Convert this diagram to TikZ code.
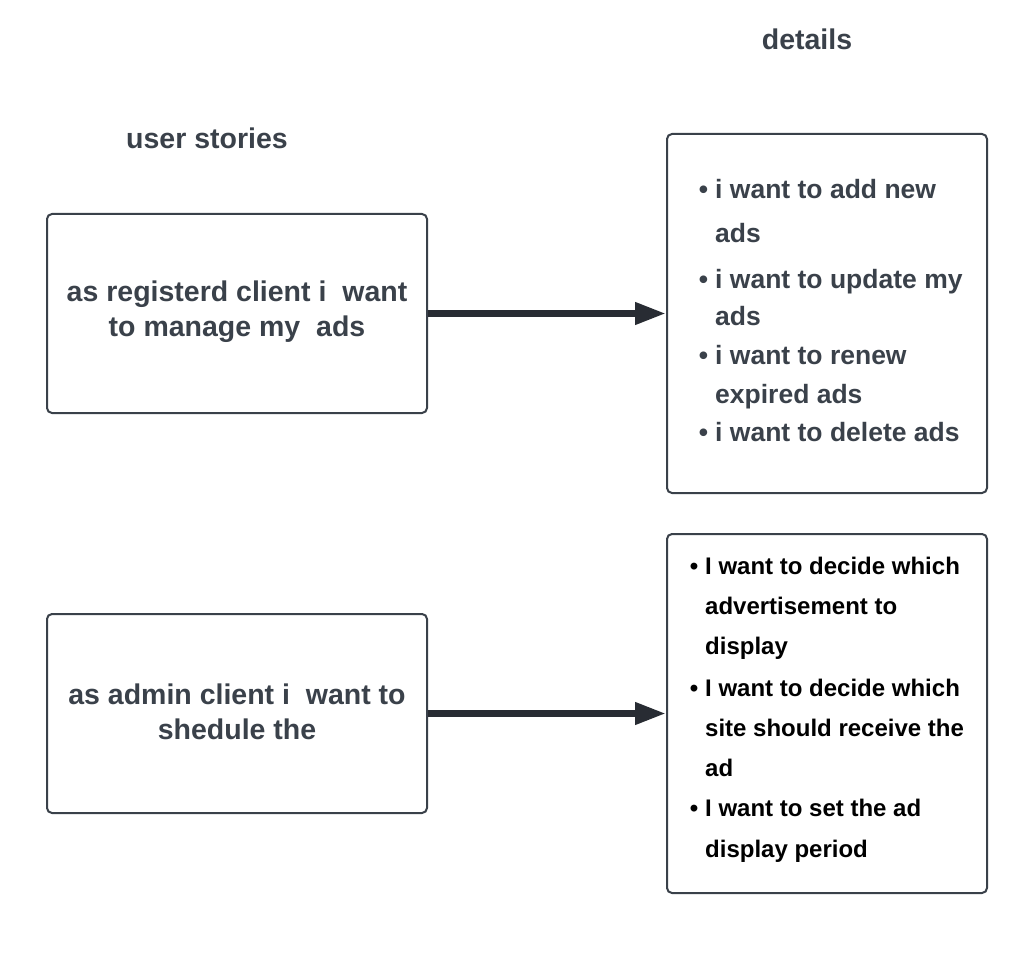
\documentclass[tikz,border=0pt]{standalone}
\usepackage{fontspec}
\setmainfont{Liberation Sans}
\usetikzlibrary{arrows.meta}
\definecolor{txt}{HTML}{3A414A}
\definecolor{arr}{HTML}{282C33}
\begin{document}
\begin{tikzpicture}[x=1pt,y=-1pt,
  storybox/.style={draw=txt, line width=2pt, rounded corners=5pt, minimum width=380pt, minimum height=199pt, text=txt, align=center, font=\bfseries\fontsize{28.5}{35}\selectfont, inner sep=0pt},
  storytext/.style={text=txt, align=center, font=\bfseries\fontsize{28.5}{35}\selectfont, inner sep=0pt},
  detailbox/.style={draw=txt, line width=2pt, rounded corners=5pt, minimum width=320pt, minimum height=359pt, inner sep=0pt},
  head/.style={anchor=base, text=txt, font=\bfseries\fontsize{28.5}{34}\selectfont, inner sep=0pt},
  lineA/.style={anchor=base west, text=txt, font=\bfseries\fontsize{26.5}{32}\selectfont, inner sep=0pt},
  lineB/.style={anchor=base west, text=black, font=\bfseries\fontsize{24}{30}\selectfont, inner sep=0pt},
  conn/.style={draw=arr, line width=7pt, -{Triangle[length=31pt,width=21pt]}}
]
\useasboundingbox (0,0) rectangle (1020,960);
\newcommand{\bulA}{\llap{\textbullet\hspace{7pt}}}
\newcommand{\bulB}{\llap{\textbullet\hspace{7pt}}}

\node[head] (h1) at (807,50) {details};
\node[head] (h2) at (207,149) {user stories};

\node[storybox] (s1) at (237,313.5) {};
\node[storybox] (s2) at (237,713.5) {};
\node[storytext] (t1) at (237,311.5) {as registerd client i\ \ want\\to manage my\ \ ads};
\node[storytext] (t2) at (237,711.5) {as admin client i\ \ want to\\shedule the};

\node[detailbox] (d1) at (827,313.5) {};
\node[detailbox] (d2) at (827,713.5) {};

\node[lineA] (a1) at (715,199) {\bulA i want to add new};
\node[lineA] (a2) at (715,242.5) {ads};
\node[lineA] (a3) at (715,288) {\bulA i want to update my};
\node[lineA] (a4) at (715,325.5) {ads};
\node[lineA] (a5) at (715,364.5) {\bulA i want to renew};
\node[lineA] (a6) at (715,403) {expired ads};
\node[lineA] (a7) at (715,441.5) {\bulA i want to delete ads};

\node[lineB] (b1) at (705,574.3) {\bulB I want to decide which};
\node[lineB] (b2) at (705,614.3) {advertisement to};
\node[lineB] (b3) at (705,654.3) {display};
\node[lineB] (b4) at (705,696) {\bulB I want to decide which};
\node[lineB] (b5) at (705,736) {site should receive the};
\node[lineB] (b6) at (705,776) {ad};
\node[lineB] (b7) at (705,816) {\bulB I want to set the ad};
\node[lineB] (b8) at (705,857) {display period};

\draw[conn] (s1.east) -- (d1.west);
\draw[conn] (s2.east) -- (d2.west);
\end{tikzpicture}
\end{document}
